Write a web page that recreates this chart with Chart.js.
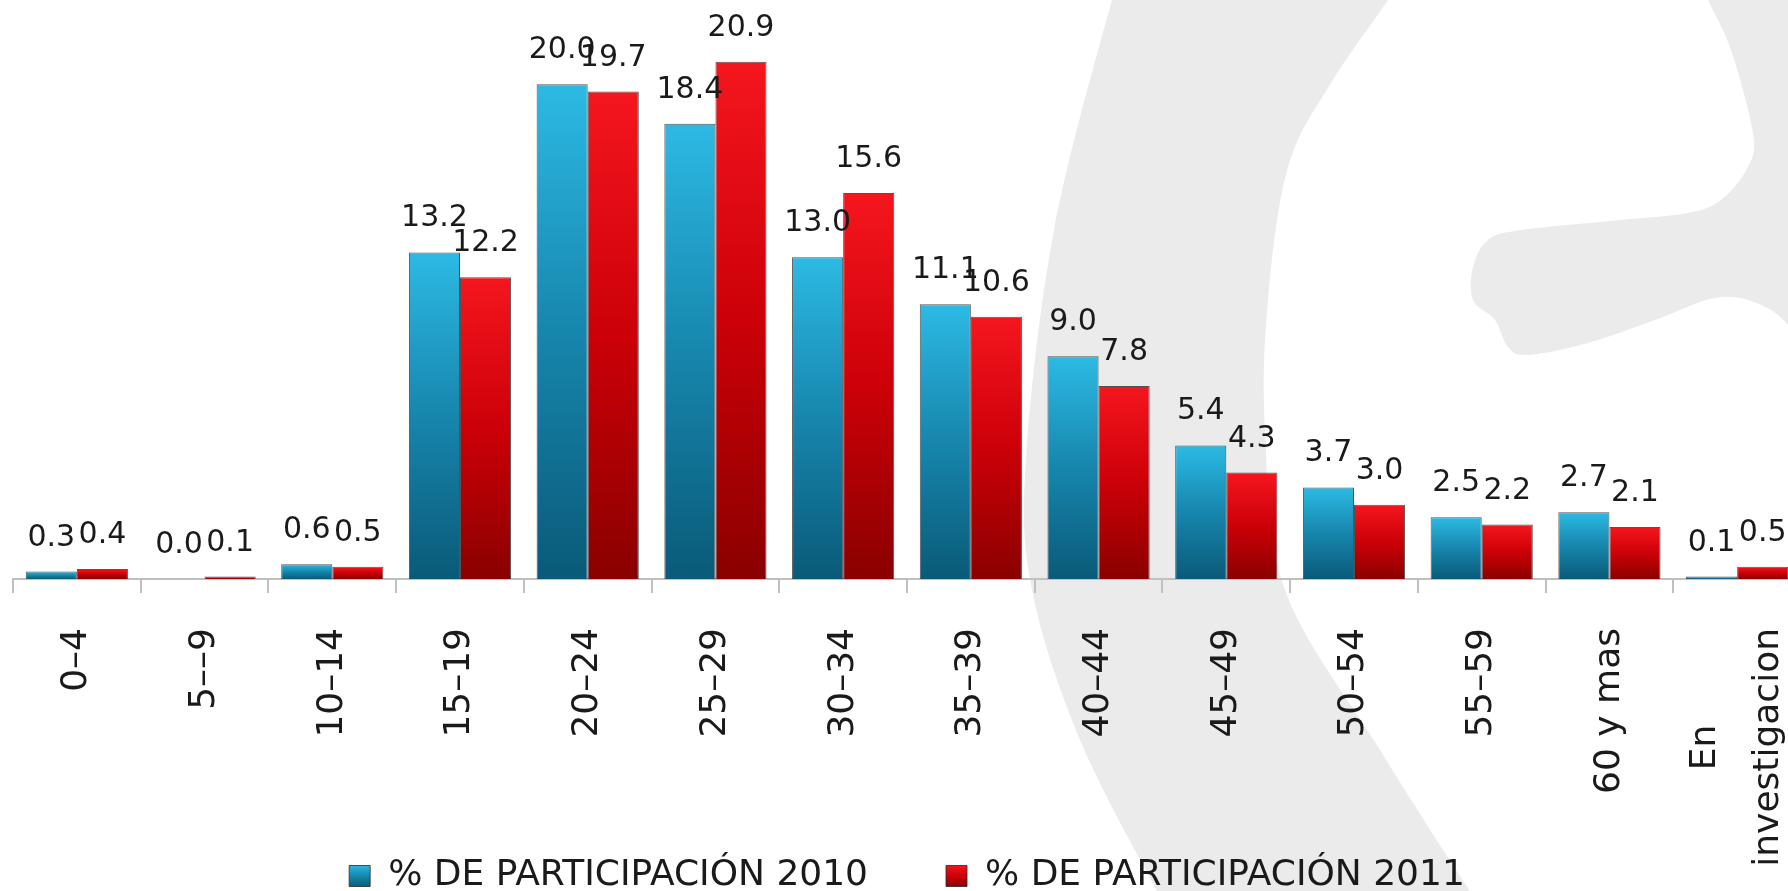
<!DOCTYPE html>
<html>
<head>
<meta charset="utf-8">
<script src="https://cdn.jsdelivr.net/npm/chart.js@4"></script>
<style>
  html, body { margin: 0; padding: 0; background: #fff; overflow: hidden; }
  canvas { display: block; }
</style>
</head>
<body>
<canvas id="chart" width="1802" height="891"></canvas>
<script>
const categories = ['0–4', '5––9', '10–14', '15–19', '20–24', '25–29', '30–34', '35–39', '40–44', '45–49', '50–54', '55–59', '60 y mas', ['En', 'investigacion']];
const part2010 = [0.3, 0.0, 0.6, 13.2, 20.0, 18.4, 13.0, 11.1, 9.0, 5.4, 3.7, 2.5, 2.7, 0.1];
const part2011 = [0.4, 0.1, 0.5, 12.2, 19.7, 20.9, 15.6, 10.6, 7.8, 4.3, 3.0, 2.2, 2.1, 0.5];
const seriesNames = ['% DE PARTICIPACIÓN 2010', '% DE PARTICIPACIÓN 2011'];

const blueStops = ['#2cbae4', '#1786ad', '#0a5a78'];
const redStops = ['#f5161e', '#cc0008', '#8a0000'];

function gradient(c, y0, y1, stops) {
  const g = c.createLinearGradient(0, y0, 0, y1);
  g.addColorStop(0, stops[0]);
  g.addColorStop(0.5, stops[1]);
  g.addColorStop(1, stops[2]);
  return g;
}

// each bar gets its own top-to-bottom gradient
function barFill(stops) {
  return (ctx) => {
    const chart = ctx.chart;
    const y = chart.scales.y;
    if (!y || ctx.raw == null) return stops[2];
    const top = y.getPixelForValue(ctx.raw);
    const base = y.getPixelForValue(0);
    if (!isFinite(top) || !isFinite(base)) return stops[1];
    if (base - top < 1) return stops[0];
    return gradient(chart.ctx, top, base, stops);
  };
}

function smoothPath(c, pts, move) {
  if (move) c.moveTo(pts[0][0], pts[0][1]); else c.lineTo(pts[0][0], pts[0][1]);
  for (let i = 0; i < pts.length - 1; i++) {
    const p0 = pts[i - 1] || pts[i], p1 = pts[i], p2 = pts[i + 1], p3 = pts[i + 2] || p2;
    c.bezierCurveTo(p1[0] + (p2[0] - p0[0]) / 6, p1[1] + (p2[1] - p0[1]) / 6,
                    p2[0] - (p3[0] - p1[0]) / 6, p2[1] - (p3[1] - p1[1]) / 6, p2[0], p2[1]);
  }
}

// grey logo in the background
const watermark = {
  id: 'watermark',
  beforeDraw(chart) {
    const c = chart.ctx;
    c.save();
    c.fillStyle = '#ebebeb';
    c.beginPath();
    smoothPath(c, [[1125, -30], [1112, 0], [1054, 230], [1026, 459], [1032, 590], [1080, 740], [1157, 891], [1180, 930]], true);
    smoothPath(c, [[1500, 930], [1470, 891], [1380, 750], [1285, 590], [1265, 430], [1268, 300], [1288, 167], [1331, 83], [1388, 0], [1405, -30]], false);
    c.closePath();
    c.fill();
    c.beginPath();
    smoothPath(c, [[1702, -20], [1708, 0], [1731, 50], [1753, 133], [1748, 167], [1721, 200], [1688, 213], [1621, 220],
      [1521, 230], [1488, 240], [1473, 267], [1473, 300], [1495, 320], [1508, 347], [1528, 355], [1588, 343],
      [1655, 320], [1721, 297], [1771, 310], [1805, 345]], true);
    c.lineTo(1810, 345);
    c.lineTo(1810, -20);
    c.closePath();
    c.fill();
    c.restore();
  }
};

// tick labels run down into the legend band, so no clipping to the axis box;
// the two-line label is centred round its category, lines centred on each other
const tickTweaks = {
  id: 'tickTweaks',
  beforeDraw(chart) {
    const scale = chart.scales.x;
    scale._computeLabelArea = () => undefined;
    const item = scale.getLabelItems(chart.chartArea).find(it => Array.isArray(it.label));
    if (!item || item._moved) return;
    const c = chart.ctx;
    c.save();
    c.font = item.font.string;
    const w = Math.max(...item.label.map(s => c.measureText(s).width));
    c.restore();
    const [tx, ty] = item.options.translation;
    item.options.translation = [tx - item.font.lineHeight / 2, ty + w / 2];
    item.options.textAlign = 'center';
    item._moved = true;
  }
};

const valueLabels = {
  id: 'valueLabels',
  afterDatasetsDraw(chart) {
    const c = chart.ctx;
    c.save();
    c.font = '30px "DejaVu Sans"';
    c.fillStyle = '#1a1a1a';
    c.textAlign = 'center';
    c.textBaseline = 'alphabetic';
    chart.data.datasets.forEach((ds, i) => {
      chart.getDatasetMeta(i).data.forEach((bar, j) => {
        c.fillText(ds.data[j].toFixed(1), bar.x, bar.y - 26);
      });
    });
    c.restore();
  }
};

new Chart(document.getElementById('chart'), {
  type: 'bar',
  data: {
    labels: categories,
    datasets: [
      { label: seriesNames[0], data: part2010, backgroundColor: barFill(blueStops) },
      { label: seriesNames[1], data: part2011, backgroundColor: barFill(redStops) }
    ]
  },
  options: {
    responsive: false,
    animation: false,
    devicePixelRatio: 1,
    layout: { padding: { left: 13, right: 1, top: 0, bottom: -13 } },
    datasets: {
      bar: {
        categoryPercentage: 0.8,
        barPercentage: 1.0,
        borderWidth: 1,
        borderColor: 'rgba(40,40,40,0.8)'
      }
    },
    scales: {
      x: {
        grid: { display: true, drawOnChartArea: false, drawTicks: true, tickLength: 14, color: '#c0c0c0', lineWidth: 2, offset: true },
        border: { display: true, color: '#c0c0c0', width: 2 },
        ticks: {
          autoSkip: false, minRotation: 90, maxRotation: 90, padding: 35, color: '#1a1a1a',
          font: { family: 'DejaVu Sans', size: 36, lineHeight: 1.75 }
        },
        afterFit(scale) {
          scale.height = 201;
          scale.paddingLeft = 0;
          scale.paddingRight = 0;
        }
      },
      y: { display: false, min: 0, max: 23.4 }
    },
    plugins: {
      tooltip: { enabled: false },
      legend: {
        position: 'bottom',
        labels: {
          boxWidth: 21, boxHeight: 21, padding: 78, color: '#1a1a1a',
          font: { family: 'DejaVu Sans', size: 36 },
          generateLabels(chart) {
            const items = Chart.defaults.plugins.legend.labels.generateLabels(chart);
            items.forEach((it, i) => {
              it.fillStyle = gradient(chart.ctx, 865, 887, i === 0 ? blueStops : redStops);
              it.strokeStyle = 'rgba(40,40,40,0.8)';
              it.lineWidth = 1;
            });
            return items;
          }
        }
      }
    }
  },
  plugins: [watermark, tickTweaks, valueLabels]
});
</script>
</body>
</html>
